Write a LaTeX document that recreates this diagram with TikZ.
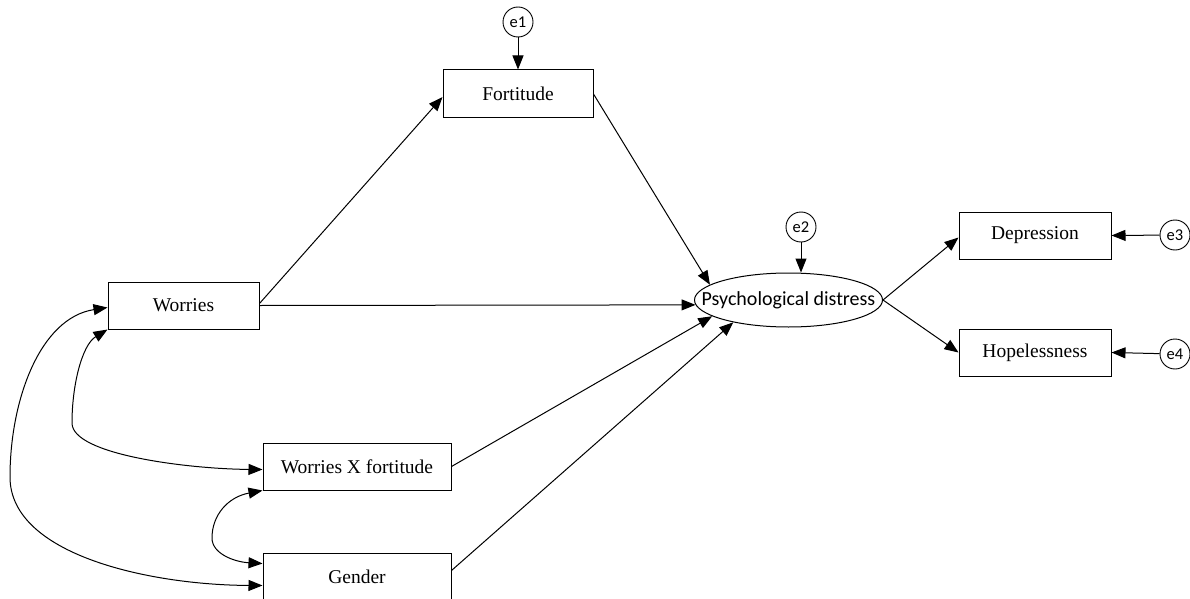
\documentclass[tikz,border=0pt]{standalone}
\usepackage{fontspec}
\setmainfont{Liberation Serif}
\newfontfamily\calibri{Carlito}
\usetikzlibrary{shapes.geometric,arrows.meta}
\begin{document}
\begin{tikzpicture}[x=1pt,y=-1pt,
  boxnode/.style={draw,line width=1pt,inner sep=0pt,minimum height=47pt,font=\fontsize{19.5}{22}\selectfont},
  errnode/.style={draw,circle,line width=0.9pt,inner sep=0pt,minimum size=30pt,font=\calibri\fontsize{16.5}{18}\selectfont},
  latent/.style={draw,ellipse,line width=1pt,inner sep=0pt,minimum width=188pt,minimum height=54pt,font=\calibri\fontsize{20}{22}\selectfont},
  arr/.style={line width=1pt,-{Triangle[length=14pt,width=11pt]}},
  darr/.style={line width=1pt,{Triangle[length=14pt,width=11pt]}-{Triangle[length=14pt,width=11pt]}}]
\useasboundingbox (0,0) rectangle (1190,599);
\node[boxnode,minimum width=150pt,minimum height=48pt] (F) at (518,94) {Fortitude};
\node[errnode] (e1) at (518,22) {e1};
\node[boxnode,minimum width=151pt] (W) at (183.5,305.5) {Worries};
\node[boxnode,minimum width=188pt] (X) at (357,466.5) {Worries X fortitude};
\node[boxnode,minimum width=188pt] (G) at (357,576.5) {Gender};
\node[latent] (P) at (788.5,300) {\makebox[0pt]{Psychological distress}};
\node[errnode] (e2) at (801,227) {e2};
\node[boxnode,minimum width=152pt] (D) at (1035,235.5) {Depression};
\node[boxnode,minimum width=152pt] (H) at (1035,352.5) {Hopelessness};
\node[errnode] (e3) at (1175,235) {e3};
\node[errnode] (e4) at (1175,354) {e4};
% error arrows
\draw[arr] (e1) -- (F);
\draw[arr] (e2.south) -- (e2.south |- P.north);
\draw[arr] (e3) -- (D.east);
\draw[arr] (e4) -- (H.east);
% structural paths
\draw[arr] ([yshift=2pt]W.east) -- ([yshift=-3pt]F.west);
\draw[arr] (W.east) -- (P.183.5);
\draw[arr] (F.east) -- (P.169);
\draw[arr] (X.east) -- (P.192);
\draw[arr] ([yshift=6pt]G.east) -- (P.202);
\draw[arr] (P.east) -- ([yshift=-2pt]D.west);
\draw[arr] (P.east) -- (H.west);
% covariances
\draw[darr] ([yshift=-2pt]W.west) .. controls (40,318) and (10,400) .. (10,477)
  .. controls (10,555) and (150,585) .. ([yshift=-9pt]G.west);
\draw[darr] (W.south west) .. controls (82,345) and (72,385) .. (72,423)
  .. controls (72,455) and (190,469) .. ([yshift=-3pt]X.west);
\draw[darr] (X.south west) .. controls (228,497) and (212,515) .. (212,538)
  .. controls (212,554) and (235,562) .. ([yshift=13pt]G.west);
\end{tikzpicture}
\end{document}
